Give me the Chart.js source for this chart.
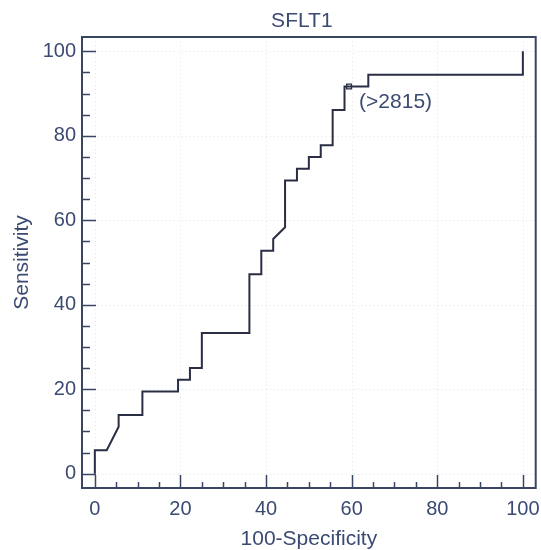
<!DOCTYPE html>
<html><head><meta charset="utf-8">
<script src="https://cdn.jsdelivr.net/npm/chart.js@4/dist/chart.umd.min.js"></script>
<style>html,body{margin:0;padding:0;background:#fff;}</style>
</head><body>
<canvas id="c" width="541" height="550"></canvas>
<script>
const chartTitle = 'SFLT1';
const xAxisTitle = '100-Specificity';
const yAxisTitle = 'Sensitivity';
// ROC curve corners (100-Specificity, Sensitivity)
const rocX = [0, 0, 2.78, 5.56, 5.56, 11.11, 11.11, 19.44, 19.44, 22.22, 22.22, 25, 25, 36.11, 36.11, 38.89, 38.89, 41.67, 41.67, 44.44, 44.44, 47.22, 47.22, 50, 50, 52.78, 52.78, 55.56, 55.56, 58.33, 58.33, 63.89, 63.89, 100, 100];
const rocY = [0, 5.56, 5.56, 11.11, 13.89, 13.89, 19.44, 19.44, 22.22, 22.22, 25, 25, 33.33, 33.33, 47.22, 47.22, 52.78, 52.78, 55.56, 58.33, 69.44, 69.44, 72.22, 72.22, 75, 75, 77.78, 77.78, 86.11, 86.11, 91.67, 91.67, 94.44, 94.44, 100];
const criterionX = [59.4];
const criterionY = [91.67];
const criterionLabel = '(>2815)';
const majorTicks = [0, 20, 40, 60, 80, 100];
const minorTicks = [5, 10, 15, 25, 30, 35, 45, 50, 55, 65, 70, 75, 85, 90, 95];

const FONT = '"Liberation Sans", Arial, Helvetica, sans-serif';
const TEXT = '#3b4a72';
const FRAME = '#3a4463';
const LINE = '#2a2e44';

const framePlugin = {
  id: 'frame',
  beforeDatasetsDraw(chart) {
    const {ctx, chartArea: a, scales: {x, y}} = chart;
    ctx.save();
    ctx.strokeStyle = 'rgba(110,120,140,0.2)';
    ctx.lineWidth = 1;
    ctx.setLineDash([1, 3]);
    majorTicks.forEach(v => {
      const px = Math.round(x.getPixelForValue(v)) + 0.5;
      const py = Math.round(y.getPixelForValue(v)) + 0.5;
      ctx.beginPath(); ctx.moveTo(px, a.top); ctx.lineTo(px, a.bottom); ctx.stroke();
      ctx.beginPath(); ctx.moveTo(a.left, py); ctx.lineTo(a.right, py); ctx.stroke();
    });
    ctx.restore();
  },
  afterDatasetsDraw(chart) {
    const {ctx, chartArea: a, scales: {x, y}} = chart;
    ctx.save();
    ctx.strokeStyle = FRAME;
    ctx.lineWidth = 1.5;
    const tick = (v, major) => {
      const px = Math.round(x.getPixelForValue(v)) + 0.5;
      ctx.beginPath(); ctx.moveTo(px, a.bottom); ctx.lineTo(px, a.bottom - (major ? 13 : 6)); ctx.stroke();
      const py = Math.round(y.getPixelForValue(v)) + 0.5;
      ctx.beginPath(); ctx.moveTo(a.left, py); ctx.lineTo(a.left + (major ? 14 : 8), py); ctx.stroke();
    };
    majorTicks.forEach(v => tick(v, true));
    minorTicks.forEach(v => tick(v, false));
    ctx.lineWidth = 2;
    ctx.strokeRect(a.left, a.top, a.right - a.left, a.bottom - a.top);
    // title
    ctx.fillStyle = TEXT;
    ctx.font = '21px ' + FONT;
    ctx.textAlign = 'center';
    ctx.textBaseline = 'middle';
    ctx.fillText(chartTitle, (a.left + a.right) / 2 - 7, 21);
    // criterion label
    const mx = x.getPixelForValue(criterionX[0]);
    const my = y.getPixelForValue(criterionY[0]);
    ctx.textAlign = 'left';
    ctx.fillText(criterionLabel, mx + 10, my + 16);
    ctx.restore();
  }
};

const tickCb = v => (v % 20 === 0 ? v : '');

new Chart(document.getElementById('c'), {
  type: 'scatter',
  data: {
    datasets: [
      {
        data: rocX.map((xv, i) => ({x: xv, y: rocY[i]})),
        showLine: true, pointRadius: 0, borderColor: LINE, borderWidth: 2, tension: 0, clip: false
      },
      {
        data: criterionX.map((xv, i) => ({x: xv, y: criterionY[i]})),
        showLine: false, pointStyle: 'rect', pointRadius: 3.4,
        pointBackgroundColor: '#ffffff', pointBorderColor: LINE, pointBorderWidth: 1.3
      }
    ]
  },
  options: {
    responsive: false,
    animation: false,
    devicePixelRatio: 1,
    layout: {padding: {top: 37, right: 4, left: 0, bottom: 0}},
    plugins: {legend: {display: false}, tooltip: {enabled: false}, title: {display: false}},
    scales: {
      x: {
        type: 'linear', min: -3, max: 103,
        grid: {display: false, drawTicks: false},
        border: {display: false},
        ticks: {stepSize: 5, includeBounds: false, autoSkip: false, maxRotation: 0, callback: tickCb,
                color: TEXT, font: {family: FONT, size: 20}, padding: 9},
        title: {display: true, text: xAxisTitle, color: TEXT, font: {family: FONT, size: 21, lineHeight: 1}, padding: {top: 0, bottom: 0}},
        afterFit(s) { s.height = 62; s.paddingLeft = 0; s.paddingRight = 0; }
      },
      y: {
        type: 'linear', min: -3.4, max: 103.4,
        grid: {display: false, drawTicks: false},
        border: {display: false},
        ticks: {stepSize: 5, includeBounds: false, autoSkip: false, callback: tickCb,
                color: TEXT, font: {family: FONT, size: 20}, padding: 6},
        title: {display: true, text: yAxisTitle, color: TEXT, font: {family: FONT, size: 21, lineHeight: 1}, padding: {top: 11.5, bottom: 0}},
        afterFit(s) { s.width = 82; s.paddingTop = 0; s.paddingBottom = 0; }
      }
    }
  },
  plugins: [framePlugin]
});
</script>
</body></html>
